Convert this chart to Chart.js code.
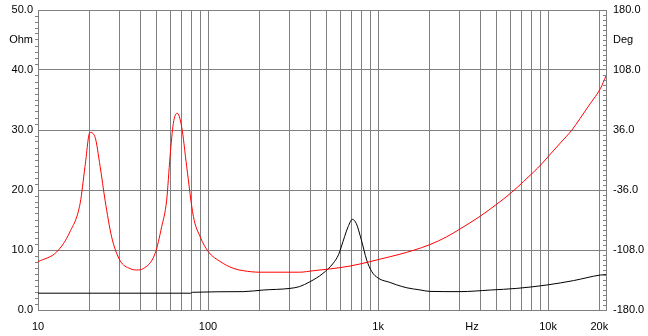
<!DOCTYPE html>
<html><head><meta charset="utf-8">
<script src="https://cdn.jsdelivr.net/npm/chart.js@4/dist/chart.umd.min.js"></script>
<style>html,body{margin:0;padding:0;background:#fff;}canvas{display:block;}</style>
</head><body>
<canvas id="c" width="648" height="336"></canvas>
<script>
// ---- data ----
const redFreq = [10,12.9,15.4,17.7,18.9,20.2,21.6,23.2,24.8,27.1,30.3,34.8,38.1,41.6,48.8,53.4,57.1,59.8,62.5,65.9,69.9,74.9,82,89.9,100.5,117.6,140.6,161,202,345,417,523,685,894,1018,1345,1616,2016,2533,3030,3970,4970,6100,7160,8220,9200,10030,11770,13810,15400,17700,20300,21900];
const redOhm  = [8.05,9.7,13.0,17.8,23.9,29.6,28.9,23.9,18.3,12.2,8.3,6.9,6.67,6.9,9.4,13.9,18.3,25.6,31.1,32.8,30.6,23.9,15.6,12.2,9.7,8.1,6.95,6.55,6.3,6.3,6.55,6.85,7.33,8.05,8.45,9.3,9.95,10.9,12.2,13.5,15.6,17.6,19.6,21.4,23.0,24.4,25.6,27.8,30.0,31.9,34.4,36.9,39.0];
const blackFreq = [10,79,81,161,211,303,345,397,474,545,585,607,667,706,745,797,858,918,1003,1173,1283,1478,1763,2016,3030,4571,6537,9850,14100,20300,21900];
const blackVal  = [2.8,2.8,2.95,3.06,3.33,3.6,3.9,4.7,6.1,7.8,9.2,10.5,13.9,15.1,14.4,11.7,8.3,6.4,5.3,4.6,4.2,3.7,3.35,3.1,3.06,3.33,3.6,4.17,4.9,5.83,5.9];

const xTicks = [10,20,30,40,50,60,70,80,90,100,200,300,400,500,600,700,800,900,1000,2000,3000,4000,5000,6000,7000,8000,9000,10000,20000];
const xLabels = {10:'10',100:'100',1000:'1k',10000:'10k',20000:'20k'};
const hzPos = 3570;
const xMin = 10, xMax = 21900;

const leftMajor = [0,10,20,30,40,50];
const leftUnitPos = 45, leftUnit = 'Ohm';
const rightMajor = [-180,-108,-36,36,108,180];
const rightUnitPos = 144, rightUnit = 'Deg';

const GRID = '#808080';
const FONT = {family:'"Liberation Sans", Arial, sans-serif', size:11};

function toXY(xs, ys){ return xs.map((x,i)=>({x:x, y:ys[i]})); }

const innerTicks = {
  id:'innerTicks',
  afterDraw(chart){
    const s = chart.scales.y2, ca = chart.chartArea, ctx = chart.ctx;
    ctx.save(); ctx.strokeStyle = GRID; ctx.lineWidth = 1; ctx.beginPath();
    s.ticks.forEach(t=>{
      if (rightMajor.includes(t.value)) return;
      const y = Math.round(s.getPixelForValue(t.value)) + 0.5;
      ctx.moveTo(ca.right - 3, y); ctx.lineTo(ca.right, y);
    });
    ctx.stroke(); ctx.restore();
  }
};

function noPadY(s){ s.paddingTop = 0; s.paddingBottom = 0; }

new Chart(document.getElementById('c'), {
  type:'line',
  data:{ datasets:[
    {data: toXY(redFreq, redOhm), borderColor:'#ff0000', borderWidth:1, pointRadius:0, cubicInterpolationMode:'monotone', yAxisID:'y'},
    {data: toXY(blackFreq, blackVal), borderColor:'#000000', borderWidth:1, pointRadius:0, cubicInterpolationMode:'monotone', yAxisID:'y'}
  ]},
  options:{
    responsive:false, devicePixelRatio:1, animation:false,
    layout:{padding:{top:10, left:0, right:0, bottom:0}, autoPadding:false},
    plugins:{legend:{display:false}, tooltip:{enabled:false}},
    scales:{
      x:{
        type:'logarithmic', min:xMin, max:xMax,
        afterBuildTicks(s){ s.ticks = xTicks.concat([hzPos]).map(v=>({value:v})); },
        afterFit(s){ s.height = 26; s.paddingLeft = 0; s.paddingRight = 0; },
        ticks:{ autoSkip:false, maxRotation:0, color:'#000', font:FONT, padding:10,
          callback:(v)=> v===hzPos ? 'Hz' : (xLabels[v] || '') },
        grid:{ drawTicks:false, color:(c)=> (c.tick && c.tick.value===hzPos) ? 'rgba(0,0,0,0)' : GRID, lineWidth:1 },
        border:{ display:true, color:GRID }
      },
      y:{
        position:'left', min:0, max:50,
        afterBuildTicks(s){ const t=[]; for(let v=0; v<=50; v++) t.push({value:v}); s.ticks=t; },
        afterFit(s){ s.width = 38; noPadY(s); },
        ticks:{ autoSkip:false, color:'#000', font:FONT, padding:2,
          callback:(v)=> leftMajor.includes(v) ? v.toFixed(1) : (v===leftUnitPos ? leftUnit : '') },
        grid:{ drawTicks:true, tickLength:3,
          color:(c)=> (c.tick && leftMajor.includes(c.tick.value)) ? GRID : 'rgba(0,0,0,0)',
          tickColor:(c)=> (c.tick && leftMajor.includes(c.tick.value)) ? 'rgba(0,0,0,0)' : GRID },
        border:{ display:true, color:GRID }
      },
      y2:{
        position:'right', min:-180, max:180,
        afterBuildTicks(s){ const t=[]; for(let v=-180; v<=180; v+=6) t.push({value:v}); s.ticks=t; },
        afterFit(s){ s.width = 42; noPadY(s); },
        ticks:{ autoSkip:false, color:'#000', font:FONT, padding:7,
          callback:(v)=> rightMajor.includes(v) ? v.toFixed(1) : (v===rightUnitPos ? rightUnit : '') },
        grid:{ drawOnChartArea:false, drawTicks:false },
        border:{ display:true, color:GRID }
      }
    }
  },
  plugins:[innerTicks]
});
</script>
</body></html>
